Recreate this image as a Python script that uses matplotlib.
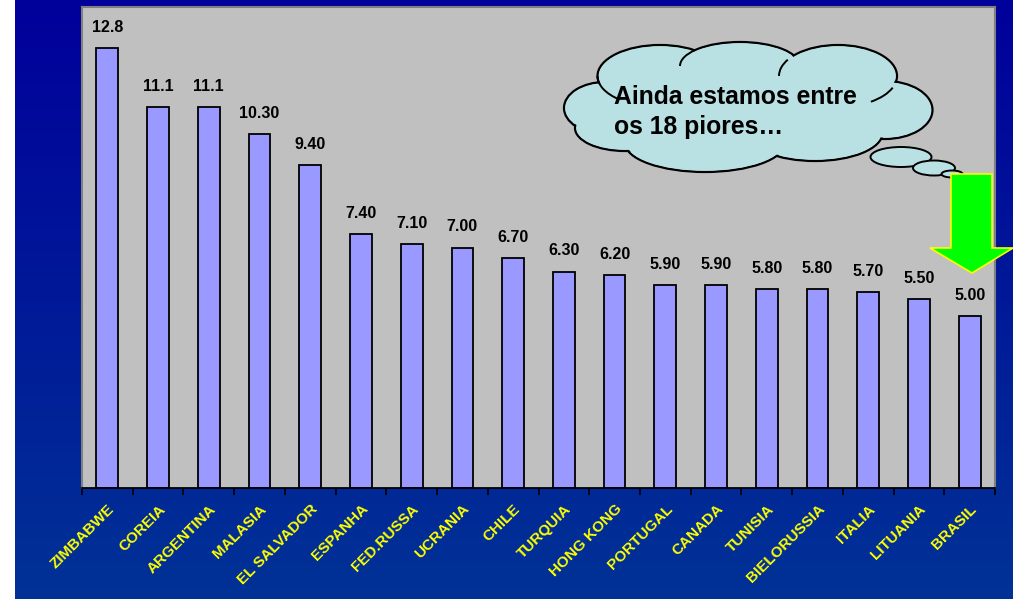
import numpy as np
import matplotlib.pyplot as plt
import matplotlib.transforms as mtransforms
from matplotlib.patches import Ellipse, Polygon, Arc

paises = ['ZIMBABWE', 'COREIA', 'ARGENTINA', 'MALASIA', 'EL SALVADOR', 'ESPANHA',
          'FED.RUSSA', 'UCRANIA', 'CHILE', 'TURQUIA', 'HONG KONG', 'PORTUGAL',
          'CANADA', 'TUNISIA', 'BIELORUSSIA', 'ITALIA', 'LITUANIA', 'BRASIL']
valores = [12.8, 11.1, 11.1, 10.30, 9.40, 7.40, 7.10, 7.00, 6.70, 6.30, 6.20,
           5.90, 5.90, 5.80, 5.80, 5.70, 5.50, 5.00]
rotulos = ['12.8', '11.1', '11.1', '10.30', '9.40', '7.40', '7.10', '7.00', '6.70',
           '6.30', '6.20', '5.90', '5.90', '5.80', '5.80', '5.70', '5.50', '5.00']
nota = 'Ainda estamos entre\nos 18 piores\u2026'

plt.rcParams['font.family'] = ['Liberation Sans', 'DejaVu Sans']

W, H = 1022, 599
fig = plt.figure(figsize=(W / 100, H / 100), dpi=100)
fig.patch.set_facecolor('white')

# fundo em degrade azul
bg = fig.add_axes([0, 0, 1, 1], zorder=0)
bg.set_xlim(0, W)
bg.set_ylim(H, 0)
bg.axis('off')
top = np.array([0, 0, 155]) / 255
bot = np.array([0, 50, 150]) / 255
t = np.linspace(0, 1, 256)[:, None]
grad = (top[None, :] * (1 - t) + bot[None, :] * t)[:, None, :]
bg.imshow(grad, extent=[15, 1013, H, 0], aspect='auto')

# grafico de barras
ax = fig.add_axes([82 / W, (H - 488) / H, 913 / W, 481 / H], zorder=1)
ax.set_facecolor('#C0C0C0')
x = np.arange(len(paises))
ax.bar(x, valores, width=0.43, color='#9999FF', edgecolor='black', linewidth=1.3)
for xi, v, r in zip(x, valores, rotulos):
    ax.text(xi, v + 0.38, r, ha='center', va='bottom', fontsize=11.5,
            fontweight='bold', color='black')
ax.set_xlim(-0.5, len(paises) - 0.5)
ax.set_ylim(0, 14)
ax.set_yticks([])
ax.set_xticks(x)
ax.set_xticklabels(paises, rotation=45, ha='right', rotation_mode='anchor',
                   color='#FFFF00', fontsize=11, fontweight='bold')
desloc = mtransforms.ScaledTranslation(-6 / 100, 0, fig.dpi_scale_trans)
for lab in ax.get_xticklabels():
    lab.set_transform(lab.get_transform() + desloc)
ax.tick_params(axis='x', which='major', length=0, pad=10)
ax.set_xticks(np.arange(-0.5, len(paises), 1), minor=True)
ax.tick_params(axis='x', which='minor', length=5, width=1.2, color='black')
for s in ['top', 'right', 'left']:
    ax.spines[s].set_color('#808080')
    ax.spines[s].set_linewidth(1.5)
ax.spines['bottom'].set_color('black')
ax.spines['bottom'].set_linewidth(1.3)

# nuvem e seta
ov = fig.add_axes([0, 0, 1, 1], zorder=2)
ov.set_xlim(0, W)
ov.set_ylim(H, 0)
ov.axis('off')
ov.patch.set_alpha(0)

nuvem = '#B9E0E3'
bolhas = [(605, 108, 82, 52), (660, 76, 125, 62), (740, 66, 120, 48),
          (838, 76, 118, 62), (885, 110, 95, 58), (815, 133, 135, 56),
          (705, 143, 160, 58), (625, 128, 100, 46)]
for cx, cy, w, h in bolhas:
    ov.add_patch(Ellipse((cx, cy), w, h, facecolor=nuvem, edgecolor='black', lw=1.6))
for cx, cy, w, h in bolhas:
    ov.add_patch(Ellipse((cx, cy), w - 3, h - 3, facecolor=nuvem, edgecolor='none'))
ov.add_patch(Ellipse((748, 108), 290, 82, facecolor=nuvem, edgecolor='none'))

# pequenas curvas internas da nuvem (so perto das bordas)
for cx, cy, w, h, a1, a2 in [(660, 76, 125, 62, 150, 180), (740, 66, 120, 48, 180, 200),
                             (838, 76, 118, 62, 180, 198), (838, 76, 118, 62, 12, 38)]:
    ov.add_patch(Arc((cx, cy), w, h, theta1=a1, theta2=a2, color='black', lw=1.4))

for cx, cy, w, h in [(901, 157, 61, 20), (934, 168, 42, 15), (952, 174, 21, 7)]:
    ov.add_patch(Ellipse((cx, cy), w, h, facecolor=nuvem, edgecolor='black', lw=1.4))

ov.text(614, 112, nota, fontsize=17.8, fontweight='bold', color='black',
        ha='left', va='center', linespacing=1.3)

seta = [(951, 174), (992, 174), (992, 248), (1013, 248), (972, 273),
        (930, 248), (951, 248)]
ov.add_patch(Polygon(seta, closed=True, facecolor='#00FF00', edgecolor='#FFFF00', lw=1.2))

fig.savefig('out.png', dpi=100)
